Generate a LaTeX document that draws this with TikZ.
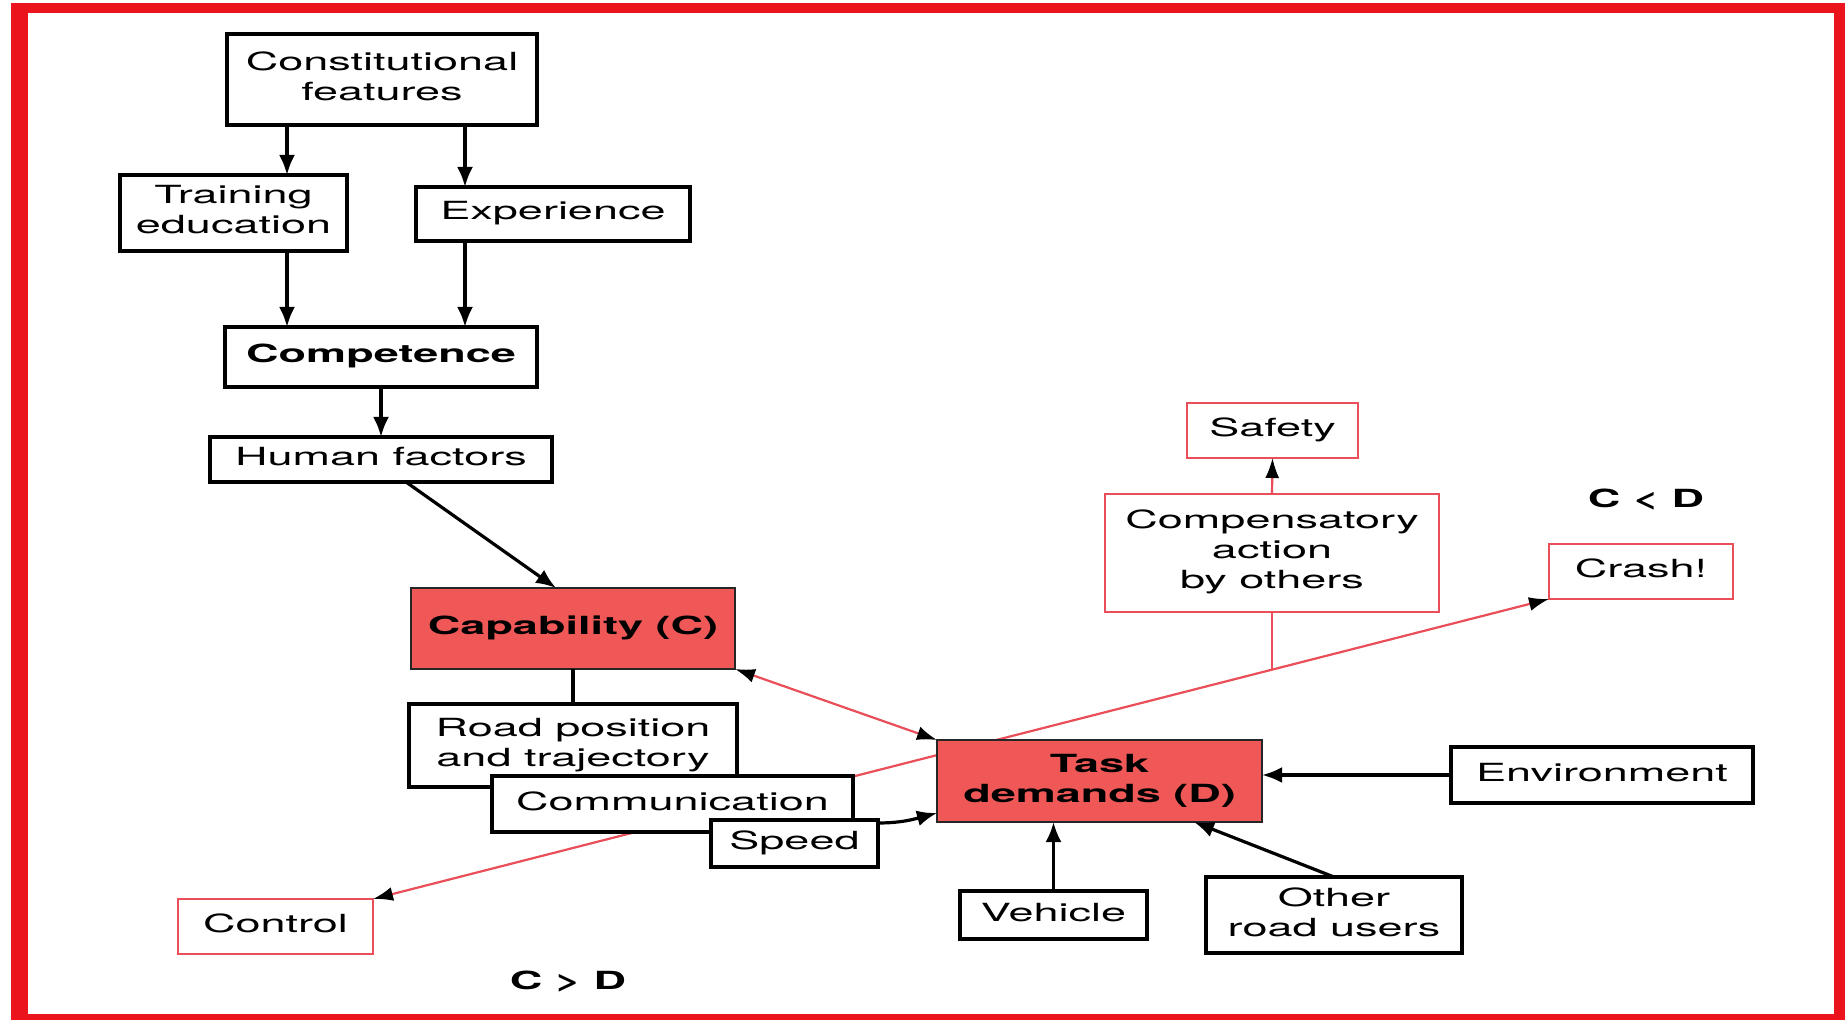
\documentclass[tikz,border=0pt]{standalone}
\usepackage{fontspec}
\setmainfont{TeX Gyre Heros}
\usepackage{graphicx}
\usetikzlibrary{arrows.meta,calc,backgrounds}
\definecolor{framered}{RGB}{236,20,28}
\definecolor{capfill}{RGB}{240,88,88}
\definecolor{redline}{RGB}{234,78,88}
\newcommand\st[1]{\scalebox{1.8}[1]{\begin{tabular}{@{}c@{}}#1\end{tabular}}}
\newcommand\bx[7]{\node[#6, minimum width={(#4-#2)*0.5pt}, minimum height={(#5-#3)*0.5pt}] (#1) at ({(#2+#4)/2},{(#3+#5)/2}) {\st{#7}};}
\begin{document}
\begin{tikzpicture}[x=0.5pt,y=-0.5pt,
  every node/.style={font=\fontsize{12.5}{15}\selectfont, inner sep=0pt, outer sep=0pt},
  boldtext/.style={font=\fontsize{12.5}{15}\selectfont\bfseries},
  bbox/.style={draw=black, line width=1.7pt, fill=white, rectangle},
  rbox/.style={draw=redline, line width=1.1pt, fill=white, rectangle},
  cbox/.style={draw=black!85, line width=1.4pt, fill=capfill, rectangle, boldtext},
  arr/.style={line width=1.6pt, -{Latex[length=10pt,width=8pt]}},
  rarr/.style={draw=redline, line width=1.1pt, -{Latex[length=10pt,width=7pt,color=black]}},
  rdbl/.style={draw=redline, line width=1.1pt, {Latex[length=10pt,width=7pt,color=black]}-{Latex[length=10pt,width=7pt,color=black]}},
]
\useasboundingbox (0,0) rectangle (1845,1020);
\begin{pgfonlayer}{background}
\fill[white] (0,0) rectangle (1845,1020);
\fill[framered] (11,3) rectangle (1845,1020);
\fill[white] (28,13) rectangle (1834,1014);
\end{pgfonlayer}

\bx{const}{227}{34}{537}{125}{bbox}{Constitutional\\features}
\bx{train}{120}{175}{347}{251}{bbox}{Training\\education}
\bx{exp}{416}{187}{690}{241}{bbox}{Experience}
\bx{comp}{225}{327}{537}{387}{bbox,boldtext}{Competence}
\bx{human}{210}{437}{552}{482}{bbox}{Human factors}
\bx{cap}{411}{588}{735}{669}{cbox}{Capability (C)}
\bx{road}{409}{704}{737}{787}{bbox}{Road position\\and trajectory}
\bx{commun}{492}{776}{853}{832}{bbox}{Communication}
\bx{speed}{711}{820}{878}{867}{bbox}{Speed}
\bx{task}{937}{740}{1262}{822}{cbox}{Task\\demands (D)}
\bx{env}{1451}{747}{1753}{803}{bbox}{Environment}
\bx{veh}{960}{891}{1147}{939}{bbox}{Vehicle}
\bx{oru}{1206}{877}{1462}{953}{bbox}{Other\\road users}
\bx{control}{178}{899}{373}{954}{rbox}{Control}
\bx{safety}{1187}{403}{1358}{458}{rbox}{Safety}
\bx{compens}{1105}{494}{1439}{612}{rbox}{Compensatory\\action\\by others}
\bx{crash}{1549}{544}{1733}{599}{rbox}{Crash!}
\node[boldtext] (cltd) at (1646,500) {\scalebox{1.8}[1]{C < D}};
\node[boldtext] (cgtd) at (568,982) {\scalebox{1.8}[1]{C > D}};

\coordinate (xa) at (287,0);
\coordinate (xb) at (465,0);
\coordinate (xo) at (1194,0);
\coordinate (j) at (1272,669.7);

\draw[arr] (const.south -| xa) -- (train.north -| xa);
\draw[arr] (const.south -| xb) -- (exp.north -| xb);
\draw[arr] (train.south -| xa) -- (comp.north -| xa);
\draw[arr] (exp.south -| xb) -- (comp.north -| xb);
\draw[arr] (comp.south) -- (human.north);
\draw[arr] ($(human.south)+(25,0)$) -- ($(cap.north)+(-17,0)$);
\draw[line width=1.6pt] (cap.south) -- (road.north);
\draw[rdbl] (cap.south east) -- (task.north west);
\draw[arr] ($(speed.north east)+(0,3)$) to[out=0,in=195] ($(task.west)+(0,32)$);
\draw[arr] (env.west) -- (env.west -| task.east);
\draw[arr] (veh.north) -- (veh.north |- task.south);
\draw[arr] (oru.north) -- (task.south -| xo);
\draw[rarr] (compens.north) -- (safety.south);
\draw[draw=redline, line width=1.1pt] (compens.south) -- (compens.south |- j);
\begin{pgfonlayer}{background}
\draw[rdbl] (control.north east) -- (crash.south west);
\end{pgfonlayer}
\end{tikzpicture}
\end{document}
